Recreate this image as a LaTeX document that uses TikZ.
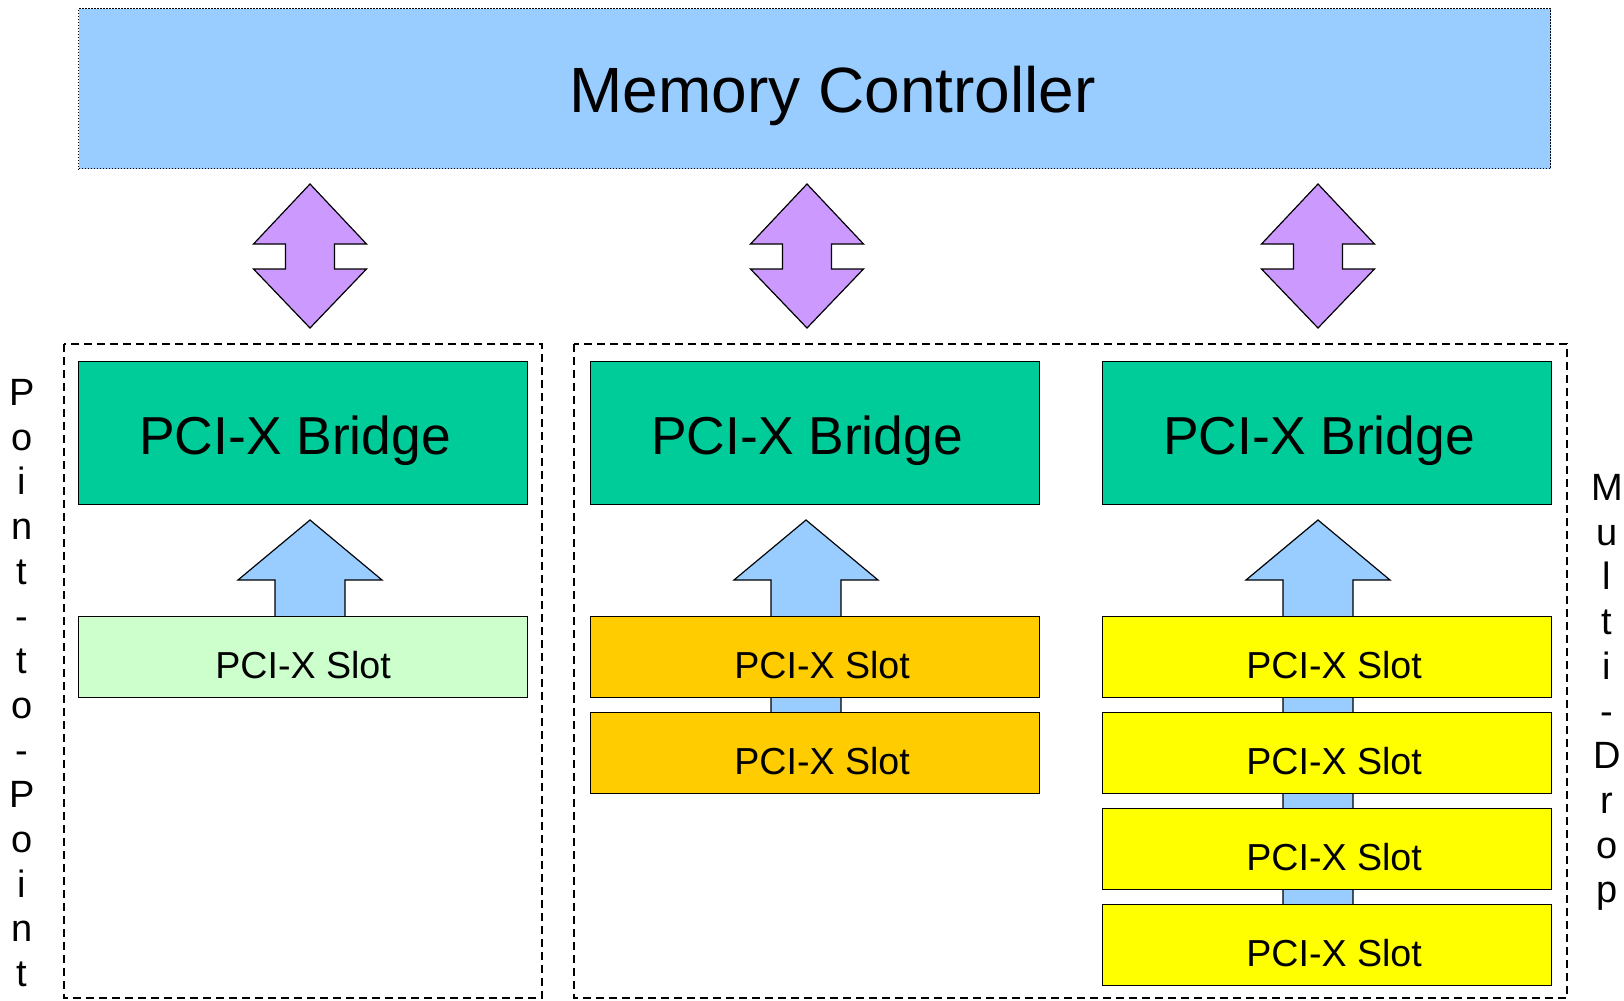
\documentclass[tikz,border=0pt]{standalone}
\usepackage{fontspec}
\setmainfont{Liberation Sans}

\definecolor{ctrlblue}{HTML}{99CCFF}
\definecolor{duplexpurple}{HTML}{CC99FF}
\definecolor{bridgegreen}{HTML}{00CC99}
\definecolor{slotmint}{HTML}{CCFFCC}
\definecolor{slotorange}{HTML}{FFCC00}
\definecolor{slotyellow}{HTML}{FFFF00}

\tikzset{
    box/.style={draw, line width=0.6pt, inner sep=0pt, anchor=north west},
    ctrl/.style={box, fill=ctrlblue, dash pattern=on 0.6pt off 0.9pt,
        minimum width=736pt, minimum height=80pt,
        text height=23.9pt, text depth=0pt, font=\fontsize{32}{38}\selectfont,
        execute at begin node=\hspace*{18pt}},
    bridge/.style={box, fill=bridgegreen, minimum width=224.5pt, minimum height=71.5pt,
        text height=21.1pt, text depth=0pt, font=\fontsize{26.7}{31}\selectfont,
        execute at begin node=\hspace*{-8pt}},
    slot/.style={box, minimum width=224.5pt, minimum height=40.5pt,
        text height=21.5pt, text depth=0pt, font=\fontsize{18.8}{22}\selectfont},
    busslot/.style={slot, execute at begin node=\hspace*{7pt}},
    group/.style={draw, line width=0.6pt, dash pattern=on 4pt off 2.5pt},
    duplex/.style={draw, fill=duplexpurple, line width=0.6pt},
    feed/.style={draw, fill=ctrlblue, line width=0.6pt},
    sidelabel/.style={anchor=north, inner sep=0pt, align=center,
        font=\fontsize{19}{22.35}\selectfont}
}

\begin{document}
\begin{tikzpicture}[x=0.5pt, y=-0.5pt]
    \useasboundingbox (0,0) rectangle (1624,1001);

    \node[ctrl] (mc) at (78,8) {Memory Controller};

    % Links to the memory controller
    \foreach \cx in {310,807,1318}
        \draw[duplex] (\cx,184) -- (\cx+56.5,244) -- (\cx+24.5,244) -- (\cx+24.5,269)
            -- (\cx+56.5,269) -- (\cx,328) -- (\cx-56.5,269) -- (\cx-24.5,269)
            -- (\cx-24.5,244) -- (\cx-56.5,244) -- cycle;

    % Bus groups
    \draw[group] (64,344) rectangle (542,998);
    \draw[group] (574,344) rectangle (1567,998);

    \node[bridge] (br1) at (78,361) {PCI-X Bridge};
    \node[bridge] (br2) at (590,361) {PCI-X Bridge};
    \node[bridge] (br3) at (1102,361) {PCI-X Bridge};

    % Buses up to the bridges
    \foreach \cx/\by in {310/697, 806/792, 1318/985}
        \draw[feed] (\cx-35,\by) -- (\cx-35,580) -- (\cx-72,580) -- (\cx,520)
            -- (\cx+72,580) -- (\cx+35,580) -- (\cx+35,\by) -- cycle;

    \node[slot, fill=slotmint] (p1) at (78,616) {PCI-X Slot};

    \foreach \i/\y in {1/616, 2/712}
        \node[busslot, fill=slotorange] (m\i) at (590,\y) {PCI-X Slot};

    \foreach \i/\y in {1/616, 2/712, 3/808, 4/904}
        \node[busslot, fill=slotyellow] (d\i) at (1102,\y) {PCI-X Slot};

    % Side labels
    \node[sidelabel] (ptp) at (22,379)
        {P\\o\\i\\n\\t\\-\\t\\o\\-\\P\\o\\i\\n\\t};
    \node[sidelabel] (mdrop) at (1607,474)
        {M\\u\\l\\t\\i\\-\\D\\r\\o\\p};
\end{tikzpicture}
\end{document}
